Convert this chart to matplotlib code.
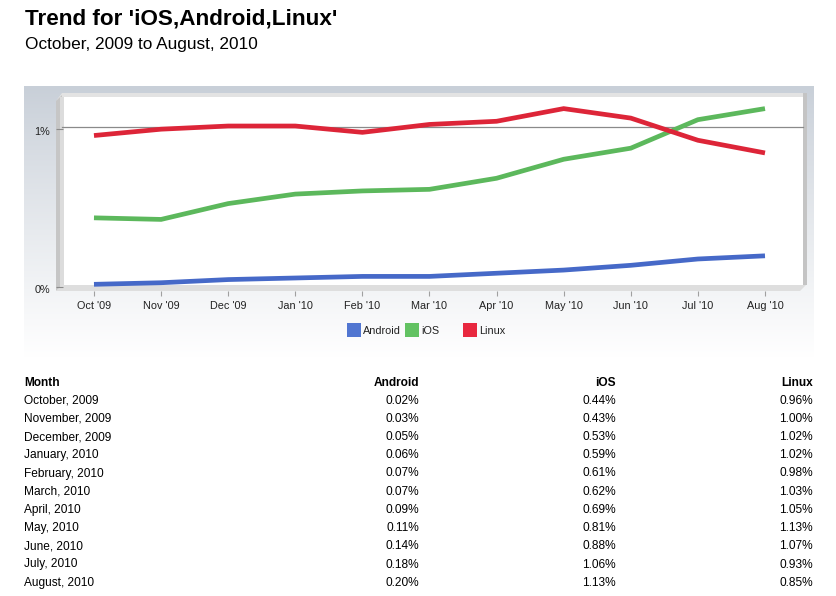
import matplotlib
matplotlib.use("Agg")
import matplotlib.pyplot as plt
import numpy as np
from matplotlib.patches import Polygon, Rectangle
from matplotlib.transforms import offset_copy, ScaledTranslation

plt.rcParams['font.family'] = ['Liberation Sans', 'DejaVu Sans']

# ---------------- data ----------------
month_ticks = ["Oct '09", "Nov '09", "Dec '09", "Jan '10", "Feb '10", "Mar '10",
               "Apr '10", "May '10", "Jun '10", "Jul '10", "Aug '10"]
month_names = ["October, 2009", "November, 2009", "December, 2009", "January, 2010",
               "February, 2010", "March, 2010", "April, 2010", "May, 2010",
               "June, 2010", "July, 2010", "August, 2010"]
android = [0.02, 0.03, 0.05, 0.06, 0.07, 0.07, 0.09, 0.11, 0.14, 0.18, 0.20]
ios = [0.44, 0.43, 0.53, 0.59, 0.61, 0.62, 0.69, 0.81, 0.88, 1.06, 1.13]
linux = [0.96, 1.00, 1.02, 1.02, 0.98, 1.03, 1.05, 1.13, 1.07, 0.93, 0.85]
series_names = ["Android", "iOS", "Linux"]
y_ticks = [0, 1]
y_tick_labels = ["0%", "1%"]

title = "Trend for 'iOS,Android,Linux'"
subtitle = "October, 2009 to August, 2010"

line_colors = {"Android": "#4669c8", "iOS": "#5cb85c", "Linux": "#dd2538"}
legend_colors = {"Android": "#5176d1", "iOS": "#62c262", "Linux": "#e8283f"}

W, H = 837, 596
fig = plt.figure(figsize=(W / 100, H / 100), dpi=100)
fig.patch.set_facecolor("white")

def fx(px):
    return px / W

def fy(py):
    return 1 - py / H

# ---------------- background (pixel coordinates) ----------------
bg = fig.add_axes([0, 0, 1, 1])
bg.set_xlim(0, W)
bg.set_ylim(H, 0)
bg.axis("off")
bg.set_zorder(0)

# gradient panel
top_c = np.array([0xc8, 0xcf, 0xd8]) / 255
bot_c = np.array([1.0, 1.0, 1.0])
n = 256
t = np.linspace(0, 1, n) ** 0.9
grad = (top_c[None, :] * (1 - t[:, None]) + bot_c[None, :] * t[:, None])[:, None, :]
bg.imshow(grad, extent=[24, 814, 358, 86], aspect="auto", interpolation="bilinear", zorder=0)

# 3D box
bg.add_patch(Polygon([(56, 101), (62, 93), (807, 93), (803, 97), (62, 97)], closed=True,
                     facecolor="#e3e3e3", edgecolor="none", zorder=1))
bg.add_patch(Polygon([(56, 101), (62, 95), (62, 286), (56, 291)], closed=True,
                     facecolor="#c6c6c6", edgecolor="none", zorder=1))
bg.add_patch(Polygon([(60, 97), (64, 97), (64, 285), (60, 288)], closed=True,
                     facecolor="#dcdcdc", edgecolor="none", zorder=1))
bg.add_patch(Rectangle((64, 97), 739, 188, facecolor="white", edgecolor="none", zorder=1))
bg.add_patch(Rectangle((803, 93), 4, 192, facecolor="#c4c4c4", edgecolor="none", zorder=1))
bg.add_patch(Polygon([(56, 291), (62, 285), (806, 285), (800, 291)], closed=True,
                     facecolor="#dedede", edgecolor="none", zorder=1))

# ---------------- main plot axes ----------------
L, R, T, B = 56, 807, 93, 291
ax = fig.add_axes([fx(L), fy(B), fx(R - L), (B - T) / H])
ax.set_zorder(2)
ax.patch.set_alpha(0)
x = np.arange(len(month_ticks))
ax.set_xlim(-0.566, 10.626)
ax.set_ylim(-0.0222, 1.2286)
for s in ax.spines.values():
    s.set_visible(False)

# gridline on the back wall (offset up for 3D look)
grid_tr = offset_copy(ax.get_yaxis_transform(), fig=fig, x=0, y=2, units="dots")
ax.plot([(62 - L) / (R - L), (803 - L) / (R - L)], [1.0, 1.0], color="#8a8a8a",
        lw=0.9, transform=grid_tr, zorder=1)

for name, vals in zip(series_names, [android, ios, linux]):
    ax.plot(x, vals, color=line_colors[name], lw=3.4, solid_capstyle="butt",
            solid_joinstyle="miter", zorder=3)

ax.set_xticks(x)
ax.set_xticklabels(month_ticks, fontsize=7.8, color="#222222")
ax.tick_params(axis="x", direction="out", length=3.5, width=0.8, color="#a0a0a0", pad=3.5)
ax.set_yticks(y_ticks)
ax.set_yticklabels(y_tick_labels, fontsize=7.8, color="#222222")
ax.tick_params(axis="y", direction="in", length=5, width=0.8, color="#8a8a8a", pad=4.3)
shift = ScaledTranslation(0, -2 / 100, fig.dpi_scale_trans)
for lab in ax.get_yticklabels():
    lab.set_transform(lab.get_transform() + shift)

# ---------------- legend ----------------
leg_x = [347, 405, 463]
for name, lx in zip(series_names, leg_x):
    bg.add_patch(Rectangle((lx, 323), 14, 14, facecolor=legend_colors[name],
                           edgecolor="none", zorder=3))
    bg.text(lx + 16, 330.5, name, fontsize=7.8, color="#222222", va="center",
            ha="left", zorder=3)

# ---------------- titles ----------------
fig.text(fx(25), fy(19), title, fontsize=16.2, fontweight="bold", va="center", ha="left")
fig.text(fx(25), fy(45), subtitle, fontsize=12.4, va="center", ha="left")

# ---------------- table ----------------
fs = 8.6
col_right = [419, 616, 813]
y0 = 382.5
dy = 18.2
fig.text(fx(24), fy(y0), "Month", fontsize=fs, fontweight="bold", va="center", ha="left")
for name, cx in zip(series_names, col_right):
    fig.text(fx(cx), fy(y0), name, fontsize=fs, fontweight="bold", va="center", ha="right")
for i, mname in enumerate(month_names):
    yy = y0 + dy * (i + 1)
    fig.text(fx(24), fy(yy), mname, fontsize=fs, va="center", ha="left")
    for vals, cx in zip([android, ios, linux], col_right):
        fig.text(fx(cx), fy(yy), "%.2f%%" % vals[i], fontsize=fs, va="center", ha="right")

fig.savefig("out.png", dpi=100)
